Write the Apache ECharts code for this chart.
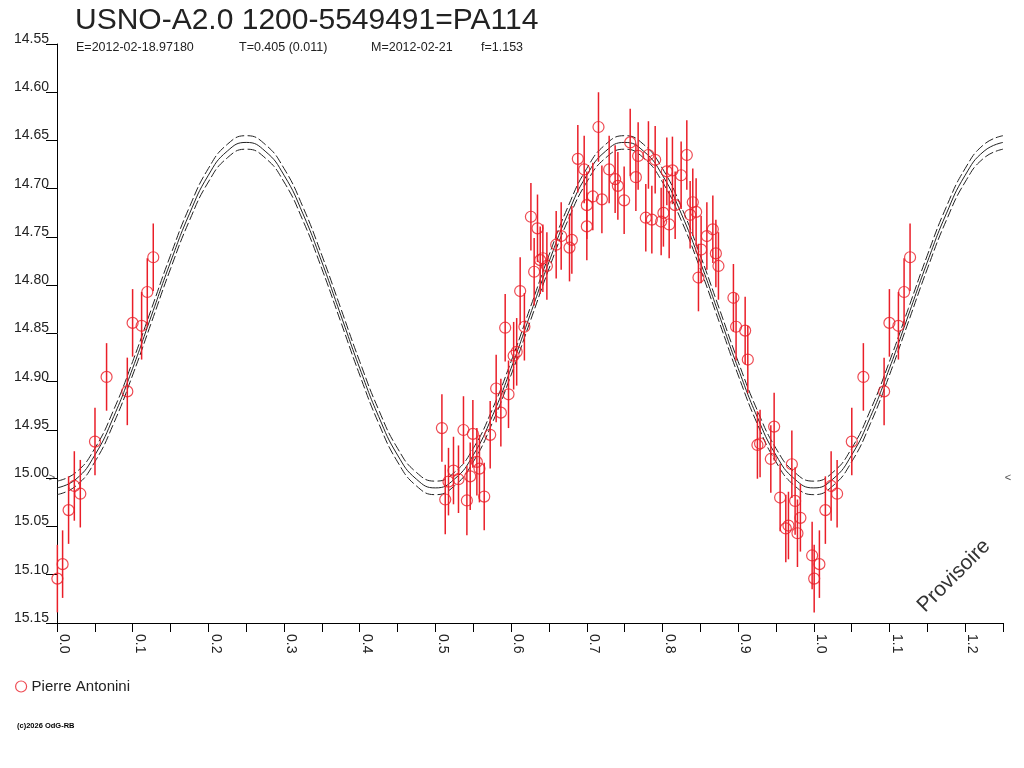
<!DOCTYPE html>
<html>
<head>
<meta charset="utf-8">
<script src="https://cdn.jsdelivr.net/npm/echarts@6/dist/echarts.min.js"></script>
<style>
html,body{margin:0;padding:0;background:#fff;}
#chart{width:1024px;height:768px;}
</style>
</head>
<body>
<div id="chart"></div>
<script>
// ---- Fit curve ----
const curvePhase = [0,0.025,0.05,0.075,0.1,0.125,0.15,0.175,0.2,0.225,0.25,0.275,0.3,0.325,0.35,0.375,0.4,0.425,0.45,0.475,
  0.5,0.525,0.55,0.575,0.6,0.625,0.65,0.675,0.7,0.725,0.75,0.775,0.8,0.825,0.85,0.875,0.9,0.925,0.95,0.975,
  1.0,1.025,1.05,1.075,1.1,1.125,1.15,1.175,1.2,1.225,1.25];
const curveMid = [15.010,15.001,14.976,14.936,14.886,14.831,14.776,14.726,14.686,14.661,14.652,14.661,14.686,14.726,14.776,14.831,14.886,14.936,14.976,15.001,
  15.010,15.001,14.976,14.936,14.886,14.831,14.776,14.726,14.686,14.661,14.652,14.661,14.686,14.726,14.776,14.831,14.886,14.936,14.976,15.001,
  15.010,15.001,14.976,14.936,14.886,14.831,14.776,14.726,14.686,14.661,14.652];
const curveUpper = [15.003,14.994,14.969,14.929,14.879,14.824,14.769,14.719,14.679,14.654,14.645,14.654,14.679,14.719,14.769,14.824,14.879,14.929,14.969,14.994,
  15.003,14.994,14.969,14.929,14.879,14.824,14.769,14.719,14.679,14.654,14.645,14.654,14.679,14.719,14.769,14.824,14.879,14.929,14.969,14.994,
  15.003,14.994,14.969,14.929,14.879,14.824,14.769,14.719,14.679,14.654,14.645];
const curveLower = [15.017,15.008,14.983,14.943,14.893,14.838,14.783,14.733,14.693,14.668,14.659,14.668,14.693,14.733,14.783,14.838,14.893,14.943,14.983,15.008,
  15.017,15.008,14.983,14.943,14.893,14.838,14.783,14.733,14.693,14.668,14.659,14.668,14.693,14.733,14.783,14.838,14.893,14.943,14.983,15.008,
  15.017,15.008,14.983,14.943,14.893,14.838,14.783,14.733,14.693,14.668,14.659];

// ---- Observations, phase 0 - 0.13 (also shown again at phase + 1) ----
const phaseA = [0.0005,0.0074,0.0153,0.0229,0.0308,0.0502,0.0655,0.0929,0.0999,0.1118,0.1193,0.1272];
const magA   = [15.104,15.089,15.033,15.008,15.016,14.962,14.895,14.910,14.839,14.842,14.807,14.771];
const errA   = [0.035,0.035,0.035,0.036,0.035,0.035,0.035,0.035,0.035,0.035,0.035,0.035];

// ---- Observations, phase 0.5 - 1.0 ----
const phaseB = [0.5086,0.5130,0.5173,0.5239,0.5305,0.5371,0.5416,0.5460,0.5495,0.5548,0.5582,0.5645,0.5724,0.5803,0.5865,0.5966,
  0.5922,0.6034,0.6074,0.6120,0.6176,
  0.6262,0.6349,0.6305,0.6385,0.6420,0.6473,0.6596,0.6662,0.6772,0.6803,0.6882,0.6966,0.7001,0.7001,0.7080,0.7155,0.7200,0.7296,0.7375,0.7411,0.7494,0.7574,0.7649,0.7679,0.7780,0.7815,0.7860,0.7904,0.7983,0.8013,0.8058,0.8089,0.8132,0.8168,0.8247,0.8322,0.8366,0.8401,0.8445,0.8476,0.8511,0.8587,0.8666,0.8706,0.8740,
  0.8938,0.8973,0.9093,0.9128,
  0.9255,0.9290,0.9432,0.9476,0.9555,0.9630,0.9665,0.9710,0.9753,0.9784,0.9823,0.9978];
const magB = [14.948,15.022,15.0035,14.992,15.001,14.950,15.023,14.998,14.954,14.983,14.990,15.019,14.955,14.907,14.932,14.913,
  14.844,14.873,14.869,14.806,14.843,
  14.729,14.741,14.786,14.774,14.772,14.780,14.758,14.749,14.761,14.753,14.669,14.680,14.717,14.739,14.708,14.636,14.711,14.680,14.690,14.697,14.712,14.652,14.688,14.666,14.730,14.665,14.732,14.670,14.734,14.725,14.682,14.737,14.681,14.717,14.686,14.665,14.727,14.714,14.724,14.792,14.763,14.749,14.742,14.767,14.780,
  14.813,14.843,14.847,14.877,
  14.9655,14.964,14.980,14.9465,15.020,15.052,15.049,14.9855,15.0235,15.057,15.041,15.080];
const errB = [0.035,0.036,0.035,0.035,0.035,0.035,0.036,0.035,0.035,0.035,0.035,0.035,0.035,0.035,0.035,0.035,
  0.035,0.035,0.035,0.035,0.035,
  0.035,0.035,0.035,0.035,0.035,0.035,0.035,0.035,0.035,0.035,0.035,0.035,0.035,0.035,0.035,0.036,0.035,0.035,0.035,0.035,0.035,0.035,0.035,0.035,0.035,0.035,0.035,0.035,0.035,0.035,0.035,0.035,0.035,0.035,0.035,0.036,0.035,0.035,0.035,0.035,0.035,0.035,0.035,0.035,0.035,
  0.035,0.035,0.035,0.035,
  0.035,0.035,0.035,0.035,0.035,0.035,0.035,0.035,0.035,0.035,0.035,0.035];

// ---- Texts ----
const titleText = 'USNO-A2.0 1200-5549491=PA114';
const subTexts = ['E=2012-02-18.97180', 'T=0.405 (0.011)', 'M=2012-02-21', 'f=1.153'];
const observerName = 'Pierre Antonini';
const meanMag = 15.00;

const RED = '#ea1e28';
const INK = '#222222';
const FONT = '"Liberation Sans", Arial, sans-serif';

const obs = [];
phaseA.forEach((p, i) => obs.push([p, magA[i], errA[i]]));
phaseB.forEach((p, i) => obs.push([p, magB[i], errB[i]]));
phaseA.forEach((p, i) => obs.push([p + 1, magA[i], errA[i]]));

const toPairs = arr => curvePhase.map((p, i) => [p, arr[i]]);

const chart = echarts.init(document.getElementById('chart'), null, {renderer: 'canvas'});
const subLefts = [76, 239, 371, 481];

chart.setOption({
  animation: false,
  backgroundColor: '#ffffff',
  textStyle: {fontFamily: FONT, color: INK},
  title: [
    {text: titleText, left: 75, top: 5, padding: 0, textStyle: {fontSize: 30, lineHeight: 32, fontWeight: 'normal', color: INK, fontFamily: FONT}},
  ].concat(subTexts.map((t, i) => ({
    text: t, left: subLefts[i], top: 41, padding: 0,
    textStyle: {fontSize: 12.5, lineHeight: 14, fontWeight: 'normal', color: INK, fontFamily: FONT}
  }))),
  legend: {
    data: [{name: observerName, icon: 'circle', itemStyle: {color: 'transparent', borderColor: RED, borderWidth: 1.2}}],
    left: 10, top: 674, itemWidth: 11, itemHeight: 11, itemGap: 6,
    textStyle: {fontSize: 15, color: INK, fontFamily: FONT}
  },
  grid: {left: 57, right: 21, top: 44, bottom: 145, containLabel: false},
  xAxis: {
    type: 'value', min: 0, max: 1.25, interval: 0.05,
    axisLine: {show: true, lineStyle: {color: '#000', width: 1}},
    axisTick: {show: true, length: 9, lineStyle: {color: '#000'}},
    splitLine: {show: false},
    axisLabel: {
      rotate: -90, margin: 11, fontSize: 14, color: INK, fontFamily: FONT,
      verticalAlign: 'bottom',
      formatter: v => (Math.abs(v * 10 - Math.round(v * 10)) < 1e-6 && v < 1.249) ? v.toFixed(1) : ''
    }
  },
  yAxis: {
    type: 'value', inverse: true, min: 14.55, max: 15.15, interval: 0.05,
    axisLine: {show: true, lineStyle: {color: '#000', width: 1}},
    axisTick: {show: true, length: 11, lineStyle: {color: '#000'}},
    splitLine: {show: false},
    axisLabel: {margin: 8, fontSize: 14, lineHeight: 10, color: INK, fontFamily: FONT, verticalAlign: 'bottom',
      formatter: v => v.toFixed(2)}
  },
  graphic: [
    {type: 'text', x: 954, y: 576, rotation: Math.PI / 4,
      style: {text: 'Provisoire', fontSize: 21, fill: '#333', align: 'center', verticalAlign: 'middle', fontFamily: FONT}},
    {type: 'text', left: 17, top: 722,
      style: {text: '(c)2026 OdG-RB', fontSize: 7.5, fontWeight: 'bold', fill: '#000', fontFamily: FONT}}
  ],
  series: [
    {type: 'line', name: 'fitUpper', data: toPairs(curveUpper), smooth: 0.5, showSymbol: false, silent: true,
      lineStyle: {color: INK, width: 1, type: [9, 3]}, z: 2},
    {type: 'line', name: 'fit', data: toPairs(curveMid), smooth: 0.5, showSymbol: false, silent: true,
      lineStyle: {color: INK, width: 1}, z: 2},
    {type: 'line', name: 'fitLower', data: toPairs(curveLower), smooth: 0.5, showSymbol: false, silent: true,
      lineStyle: {color: INK, width: 1, type: [9, 3]}, z: 2},
    {type: 'custom', name: 'errors', data: obs, z: 3, silent: true,
      renderItem: (params, api) => {
        const x = api.value(0), m = api.value(1), e = api.value(2);
        const a = api.coord([x, m - e]);
        const b = api.coord([x, m + e]);
        return {type: 'line', shape: {x1: a[0], y1: a[1], x2: b[0], y2: b[1]},
          style: {stroke: RED, lineWidth: 1.5}};
      }},
    {type: 'scatter', name: observerName, data: obs, symbol: 'circle', symbolSize: 11, z: 4,
      itemStyle: {color: 'transparent', borderColor: RED, borderWidth: 1.2}},
    {type: 'scatter', name: 'meanMarks', silent: true, clip: false, symbolSize: 0, z: 5,
      data: [[0, meanMag, '>'], [1.25, meanMag, '<']],
      label: {show: true, fontSize: 11, color: INK, fontFamily: FONT,
        formatter: p => p.value[2],
        position: 'inside'},
      labelLayout: p => ({dx: p.dataIndex === 0 ? -5 : 5})}
  ]
});
</script>
</body>
</html>
